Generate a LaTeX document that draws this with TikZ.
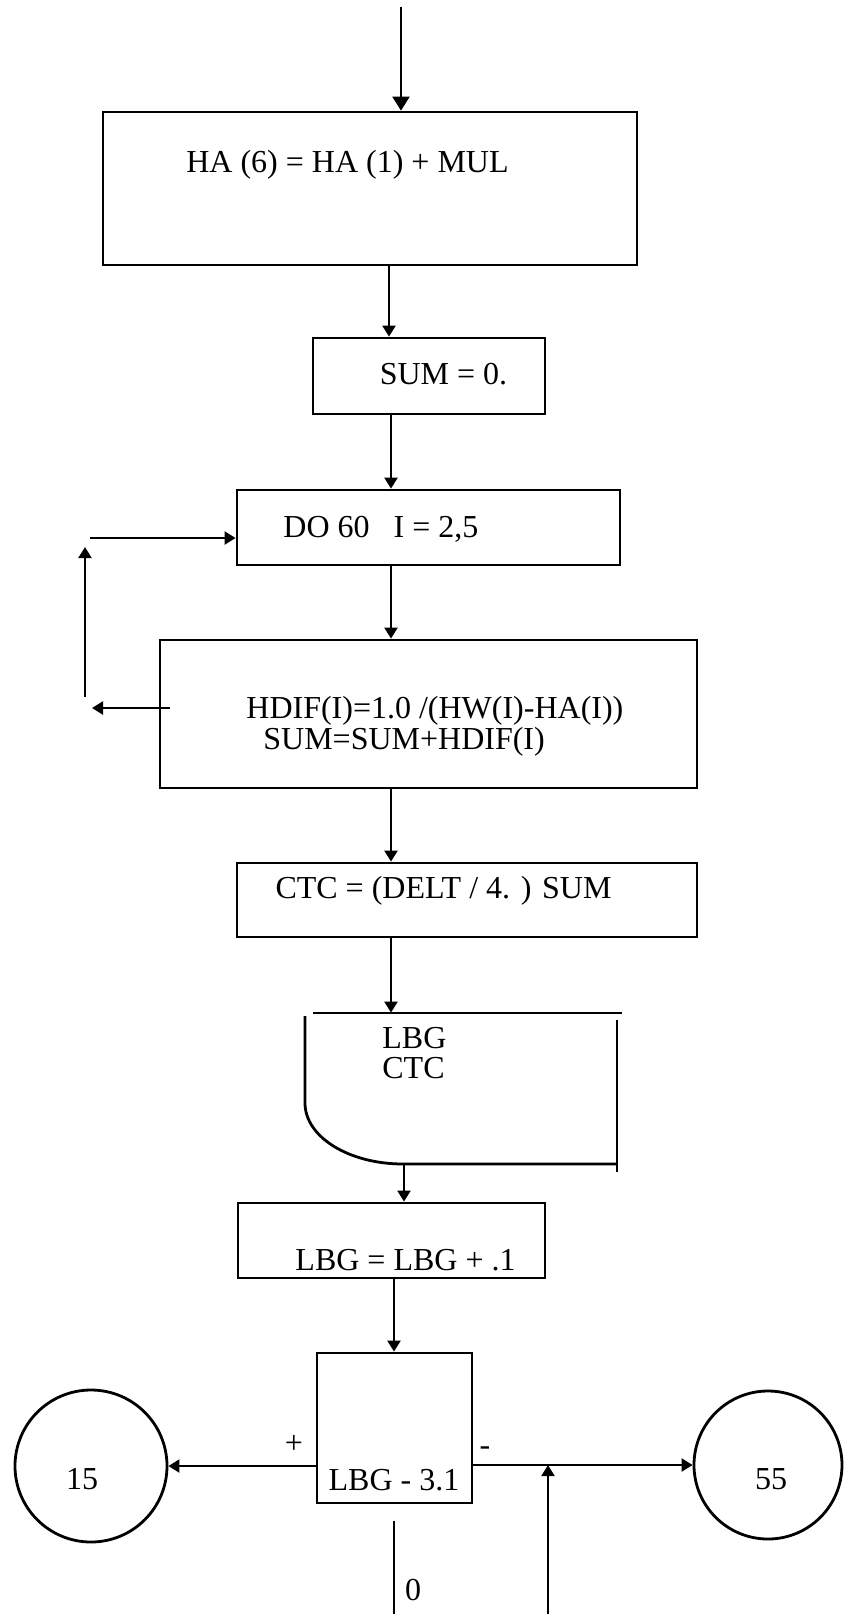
\documentclass[tikz,border=0pt]{standalone}
\usepackage{fontspec}
\setmainfont{Liberation Serif}
\usetikzlibrary{arrows.meta,fit}

\begin{document}
\begin{tikzpicture}[x=0.5pt, y=-0.5pt, >={Triangle[length=5.5pt,width=6.5pt]},
  blk/.style={draw, line width=1.4pt, inner sep=0pt},
  txt/.style={inner sep=0pt, font=\fontsize{16}{19}\selectfont, text height=10.6pt, text depth=0pt},
  arr/.style={->, line width=1.1pt}]
\useasboundingbox (0,0) rectangle (847,1614);
\node[blk, fit={(103,112) (637,265)}] (ha) {};
\node[blk, fit={(313,338) (545,414)}] (sum) {};
\node[blk, fit={(237,490) (620,565)}] (do) {};
\node[blk, fit={(160,640) (697,788)}] (hdif) {};
\node[blk, fit={(237,863) (697,937)}] (ctc) {};
\node[inner sep=0pt, fit={(305,1013) (617,1164)}] (out) {};
\node[blk, fit={(238,1203) (545,1278)}] (lbg) {};
\node[blk, fit={(317,1353) (472,1503)}] (dec) {};
\node[blk, circle, minimum size=76pt] (c15) at (91,1466) {};
\node[blk, circle, minimum size=74pt] (c55) at (768,1465) {};
\node[txt] (hat) at (347.5,162) {HA (6) = HA (1) + MUL};
\node[txt] (sumt) at (443.5,374) {SUM = 0.};
\node[txt, anchor=west] (dot) at (283,527) {DO 60\hspace{0.75em}I = 2,5};
\node[txt, anchor=west] (hdifa) at (246,708) {HDIF(I)=1.0 /(HW(I)-HA(I))};
\node[txt, anchor=west] (hdifb) at (263,739) {SUM=SUM+HDIF(I)};
\node[txt] (ctct) at (443.5,888) {CTC = (DELT / 4. ) SUM};
\node[txt, anchor=west] (outa) at (382,1038) {LBG};
\node[txt, anchor=west] (outb) at (382,1068) {CTC};
\node[txt] (lbgt) at (405.5,1260) {LBG = LBG + .1};
\node[txt] (dect) at (394,1480) {LBG - 3.1};
\node[txt] (c15t) at (82,1479) {15};
\node[txt] (c55t) at (771,1479) {55};
\node[txt] (plus) at (294,1443) {+};
\node[txt] (minus) at (485,1445) {-};
\node[txt] (zero) at (413,1590) {0};
\draw[blk] (313,1013) -- (622,1013);
\draw[blk] (617,1020) -- (617,1172);
\draw[blk] (305,1016) -- (305,1103) .. controls (305,1137) and (349,1164) .. (403,1164) -- (617,1164);
\coordinate (top) at (401,7);
\coordinate (k1) at (389,0);
\coordinate (k2) at (391,0);
\coordinate (k3) at (404,0);
\coordinate (k4) at (394,0);
\draw[-{Triangle[length=7pt,width=8.5pt]}, line width=1.1pt] (top) -- (top |- ha.north);
\draw[arr] (k1 |- ha.south) -- (k1 |- sum.north);
\draw[arr] (k2 |- sum.south) -- (k2 |- do.north);
\draw[arr] (k2 |- do.south) -- (k2 |- hdif.north);
\draw[arr] (k2 |- hdif.south) -- (k2 |- ctc.north);
\draw[arr] (k2 |- ctc.south) -- (k2 |- out.north);
\draw[arr] (k3 |- out.south) -- (k3 |- lbg.north);
\draw[arr] (k4 |- lbg.south) -- (k4 |- dec.north);
\coordinate (lpa) at (170,708);
\coordinate (lpb) at (92,708);
\coordinate (lpc) at (85,697);
\coordinate (lpd) at (85,547);
\coordinate (lpe) at (90,538);
\draw[arr] (lpa) -- (lpb);
\draw[arr] (lpc) -- (lpd);
\draw[arr] (lpe) -- (do.west |- lpe);
\draw[arr] (dec.west |- c15.east) -- (c15.east);
\draw[arr] (dec.east |- c55.west) -- (c55.west);
\coordinate (up0) at (548,1614);
\draw[arr] (up0) -- (up0 |- c55.west);
\coordinate (z0) at (394,1521);
\coordinate (z1) at (394,1614);
\draw[line width=1.1pt] (z0) -- (z1);
\end{tikzpicture}
\end{document}
